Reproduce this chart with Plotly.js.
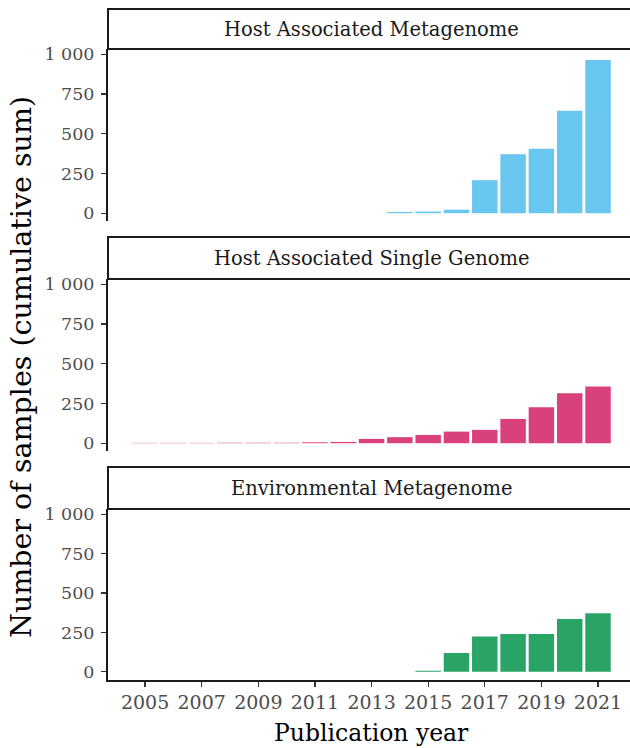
<!DOCTYPE html>
<html>
<head>
<meta charset="utf-8">
<script src="https://cdn.plot.ly/plotly-3.0.1.min.js"></script>
<style>html,body{margin:0;padding:0;background:#fff;}#chart{width:630px;height:748px;}</style>
</head>
<body>
<div id="chart"></div>
<script>
// ---- data ----
const years = [2005,2006,2007,2008,2009,2010,2011,2012,2013,2014,2015,2016,2017,2018,2019,2020,2021];
const hostMetagenome = [0,0,0,0,0,0,0,0,0,8,10,22,208,371,405,644,964];
const hostSingleGenome = [2,2,2,3,3,3,6,8,27,38,52,73,84,153,226,314,356];
const envMetagenome = [0,0,0,0,0,0,0,0,0,0,6,119,224,239,239,335,371];
const facetNames = ["Host Associated Metagenome","Host Associated Single Genome","Environmental Metagenome"];
const facetColors = ["#69c6ee","#d9417d","#2aa466"];
const yTickVals = [0,250,500,750,1000];
const yTickText = ["0","250","500","750","1 000"];
const xTickVals = [2005,2007,2009,2011,2013,2015,2017,2019,2021];
const xTitle = "Publication year";
const yTitle = "Number of samples (cumulative sum)";

// ---- layout geometry (px) ----
const W = 630, H = 748;
const FONT = "DejaVu Serif";
const panels = [
  {stripTop: 9,   plotTop: 49,  plotBot: 221},
  {stripTop: 237, plotTop: 279, plotBot: 451},
  {stripTop: 467, plotTop: 509, plotBot: 679.5}
];
const fy = px => 1 - px / H;
const series = [hostMetagenome, hostSingleGenome, envMetagenome];

const traces = series.map((vals, i) => ({
  type: 'bar', x: years, y: vals, width: 0.9,
  xaxis: i === 0 ? 'x' : 'x' + (i + 1),
  yaxis: i === 0 ? 'y' : 'y' + (i + 1),
  marker: {color: facetColors[i], line: {width: 0}},
  name: facetNames[i], showlegend: false, hoverinfo: 'x+y'
}));

const layout = {
  width: W, height: H,
  margin: {l: 108, r: 0, t: 0, b: 0},
  paper_bgcolor: '#fff', plot_bgcolor: 'rgba(0,0,0,0)',
  bargap: 0.1,
  font: {family: FONT, color: '#4d4d4d'},
  shapes: [], annotations: []
};

panels.forEach((p, i) => {
  const s = i === 0 ? '' : String(i + 1);
  const last = i === panels.length - 1;
  layout['xaxis' + s] = {
    domain: [0, 1], anchor: 'y' + s, range: [2003.69, 2022.13],
    tickmode: 'array', tickvals: xTickVals, ticktext: xTickVals.map(String),
    showticklabels: last, ticks: last ? 'outside' : '', ticklen: 5, tickwidth: 1.3, tickcolor: '#333',
    showline: last, linecolor: '#1a1a1a', linewidth: 2,
    showgrid: false, zeroline: false,
    tickfont: {family: FONT, size: 19, color: '#4d4d4d'},
    matches: i === 0 ? undefined : 'x'
  };
  layout['yaxis' + s] = {
    domain: [fy(p.plotBot), fy(p.plotTop)], anchor: 'x' + s, range: [-49, 1033],
    tickmode: 'array', tickvals: yTickVals, ticktext: yTickText,
    ticks: 'outside', ticklen: 5, tickwidth: 1.3, tickcolor: '#333',
    ticklabelstandoff: 3,
    showline: true, linecolor: '#1a1a1a', linewidth: 2,
    showgrid: false, zeroline: false,
    tickfont: {family: FONT, size: 17.5, color: '#4d4d4d'}
  };
  // strip box
  layout.shapes.push({
    type: 'rect', xref: 'paper', yref: 'paper',
    x0: 0, x1: 1.02, y0: fy(p.plotTop), y1: fy(p.stripTop),
    line: {color: '#1a1a1a', width: 2}, fillcolor: '#ffffff', layer: 'above'
  });
  layout.annotations.push({
    xref: 'paper', yref: 'paper', x: 0.505, y: fy((p.stripTop + p.plotTop) / 2),
    xanchor: 'center', yanchor: 'middle', showarrow: false,
    text: facetNames[i], font: {family: FONT, size: 19.5, color: '#1a1a1a'}
  });
});

// axis titles
layout.annotations.push({
  xref: 'paper', yref: 'paper', x: 0.505, y: fy(733), xanchor: 'center', yanchor: 'middle',
  showarrow: false, text: xTitle, font: {family: FONT, size: 23.5, color: '#000'}
});
layout.annotations.push({
  xref: 'paper', yref: 'paper', x: (21 - 108) / (W - 108), y: fy(367), xanchor: 'center', yanchor: 'middle',
  showarrow: false, textangle: -90, text: yTitle, font: {family: FONT, size: 28.5, color: '#000'}
});

Plotly.newPlot('chart', traces, layout, {staticPlot: true, displayModeBar: false});
</script>
</body>
</html>
